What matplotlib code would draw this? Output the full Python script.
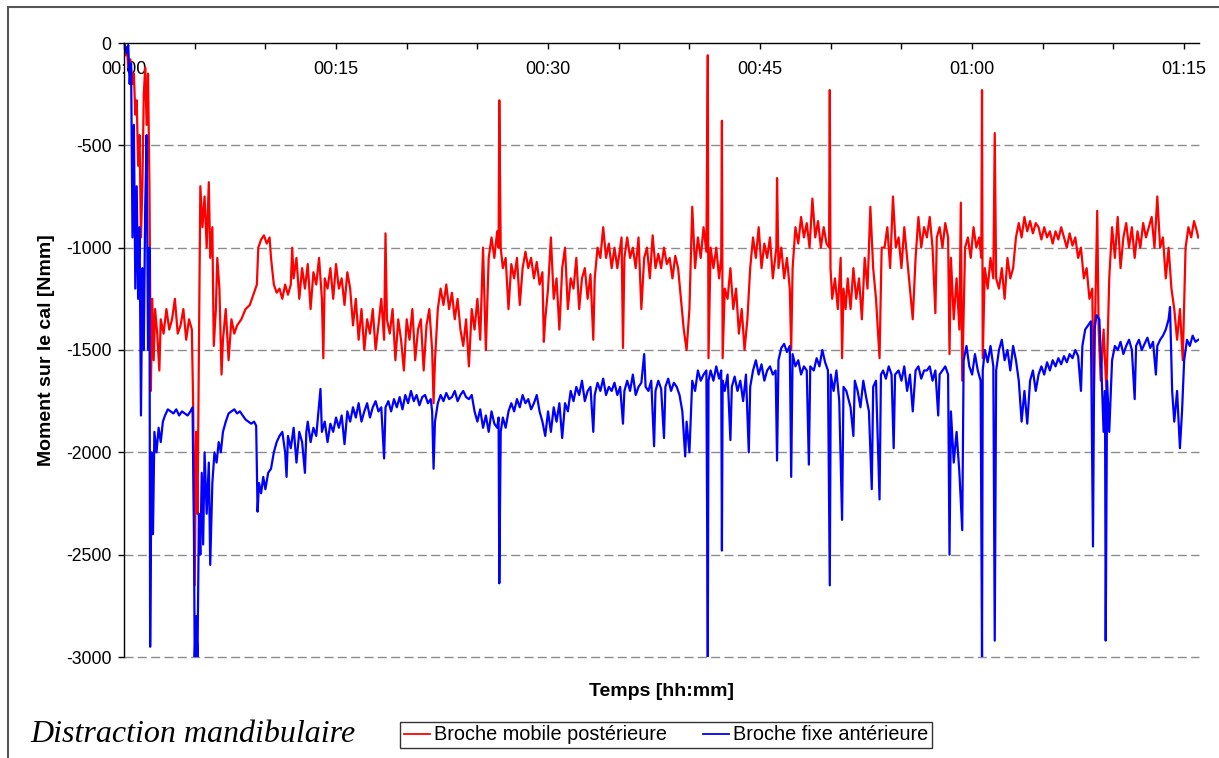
import matplotlib
matplotlib.use("Agg")
import matplotlib.pyplot as plt
import matplotlib.ticker as mticker
from matplotlib.patches import Rectangle

plt.rcParams['font.family'] = ['Liberation Sans', 'DejaVu Sans']
plt.rcParams['axes.unicode_minus'] = False

# temps en minutes, moment en Nmm
red_t = [0, 0.1, 0.2, 0.3, 0.45, 0.6, 0.7, 0.8, 0.9, 1.0, 1.1, 1.2, 1.3, 1.4, 1.5, 1.6, 1.7, 1.8, 1.9,
         2.0, 2.1, 2.2, 2.35, 2.5, 2.6, 2.8, 3.0, 3.2, 3.4, 3.6, 3.8, 4.0, 4.2, 4.4, 4.6, 4.8, 4.9,
         5.0, 5.1, 5.2, 5.3, 5.4, 5.55, 5.7, 5.85, 6.0, 6.1, 6.25, 6.35, 6.5, 6.6, 6.75, 6.9, 7.0, 7.2,
         7.4, 7.6, 7.8, 8.0, 8.3, 8.6, 8.9, 9.2, 9.4, 9.5, 9.7, 9.9, 10.1, 10.3, 10.4, 10.6, 10.8,
         11.0, 11.2, 11.4, 11.6, 11.8, 11.9, 12.0, 12.2, 12.4, 12.6, 12.8, 13.0, 13.2, 13.4, 13.6,
         13.8, 14.0, 14.1, 14.2, 14.4, 14.6, 14.8, 15.0, 15.2, 15.4, 15.6, 15.8, 16.0, 16.2, 16.4,
         16.6, 16.8, 17.0, 17.2, 17.4, 17.6, 17.8, 18.0, 18.2, 18.4, 18.5, 18.6, 18.8, 19.0, 19.2,
         19.4, 19.6, 19.8, 20.0, 20.2, 20.4, 20.6, 20.8, 21.0, 21.2, 21.4, 21.6, 21.8, 21.9, 22.0,
         22.2, 22.4, 22.6, 22.8, 23.0, 23.2, 23.4, 23.6, 23.8, 24.0, 24.2, 24.4, 24.6, 24.8, 25.0,
         25.2, 25.4, 25.6, 25.8, 26.0, 26.2, 26.4, 26.5, 26.55, 26.65, 26.8, 27.0, 27.2, 27.4, 27.6,
         27.8, 28.0, 28.2, 28.4, 28.6, 28.8, 29.0, 29.2, 29.4, 29.6, 29.7, 29.8, 30.0, 30.2, 30.4,
         30.6, 30.8, 31.0, 31.2, 31.4, 31.6, 31.8, 32.0, 32.2, 32.4, 32.6, 32.8, 33.0, 33.2, 33.3,
         33.5, 33.7, 33.9, 34.1, 34.3, 34.5, 34.7, 34.9, 35.2, 35.3, 35.4, 35.6, 35.8, 36.0, 36.2,
         36.4, 36.6, 36.8, 37.0, 37.2, 37.4, 37.6, 37.8, 38.0, 38.2, 38.4, 38.6, 38.8, 39.0, 39.2,
         39.4, 39.6, 39.8, 40.0, 40.2, 40.4, 40.6, 40.8, 41.0, 41.2, 41.3, 41.35, 41.5, 41.7, 41.9,
         42.1, 42.25, 42.3, 42.35, 42.5, 42.7, 42.9, 43.1, 43.3, 43.5, 43.7, 43.9, 44.1, 44.3, 44.5,
         44.7, 44.9, 45.1, 45.3, 45.5, 45.7, 45.9, 46.15, 46.2, 46.3, 46.5, 46.7, 46.9, 47.1, 47.2,
         47.3, 47.5, 47.7, 47.9, 48.1, 48.3, 48.5, 48.7, 48.9, 49.1, 49.3, 49.5, 49.7, 49.88, 49.93,
         49.98, 50.1, 50.3, 50.5, 50.7, 50.8, 50.9, 51.05, 51.2, 51.4, 51.6, 51.8, 52.0, 52.2, 52.4,
         52.6, 52.8, 53.0, 53.2, 53.45, 53.6, 53.8, 54.0, 54.2, 54.4, 54.6, 54.8, 55.0, 55.2, 55.4,
         55.6, 55.8, 56.0, 56.2, 56.4, 56.6, 56.8, 57.0, 57.2, 57.4, 57.5, 57.7, 57.9, 58.1, 58.3,
         58.4, 58.5, 58.7, 58.9, 59.1, 59.2, 59.3, 59.5, 59.7, 59.9, 60.1, 60.3, 60.5, 60.65, 60.7,
         60.75, 60.9, 61.1, 61.3, 61.5, 61.6, 61.7, 61.9, 62.1, 62.3, 62.5, 62.7, 62.9, 63.1, 63.3,
         63.5, 63.7, 63.9, 64.1, 64.3, 64.5, 64.7, 64.9, 65.1, 65.3, 65.5, 65.7, 65.9, 66.1, 66.3,
         66.5, 66.7, 66.9, 67.1, 67.3, 67.5, 67.7, 67.9, 68.1, 68.3, 68.5, 68.6, 68.7, 68.85, 68.95,
         69.1, 69.3, 69.5, 69.7, 69.9, 70.1, 70.3, 70.5, 70.7, 70.9, 71.1, 71.3, 71.5, 71.7, 71.9,
         72.1, 72.3, 72.5, 72.7, 72.9, 73.1, 73.3, 73.5, 73.7, 73.9, 74.1, 74.3, 74.5, 74.7, 74.9,
         75.1, 75.3, 75.5, 75.7, 75.9, 76.0]
red_v = [-30, -60, -20, -120, -80, -200, -150, -350, -280, -600, -450, -950, -700, -250, -120, -400, -150, -700, -1700,
         -1250, -1550, -1300, -1420, -1600, -1350, -1420, -1300, -1400, -1350, -1250, -1420, -1380, -1300, -1450, -1350, -1400, -1800,
         -2650, -1900, -2300, -1500, -700, -900, -750, -1000, -680, -1050, -900, -1480, -1300, -1050, -1200, -1620, -1450, -1300,
         -1550, -1350, -1420, -1380, -1350, -1300, -1280, -1220, -1180, -1000, -960, -940, -980, -950, -1050, -1180, -1220,
         -1200, -1250, -1180, -1230, -1180, -1000, -1150, -1050, -1250, -1100, -1200, -1080, -1300, -1120, -1180,
         -1050, -1250, -1540, -1150, -1200, -1100, -1250, -1080, -1200, -1150, -1280, -1120, -1200, -1380, -1250,
         -1450, -1300, -1500, -1350, -1420, -1300, -1500, -1380, -1250, -1450, -930, -1350, -1420, -1300, -1550,
         -1350, -1450, -1600, -1350, -1450, -1300, -1550, -1400, -1350, -1600, -1380, -1300, -1500, -1760, -1550,
         -1300, -1200, -1280, -1180, -1300, -1220, -1350, -1250, -1400, -1480, -1350, -1580, -1300, -1400, -1250,
         -1450, -1000, -1500, -1050, -950, -1050, -920, -1000, -280, -1000, -1100, -1050, -1300, -1080, -1150,
         -1050, -1280, -1100, -1020, -1100, -1050, -1150, -1070, -1180, -1120, -1460, -1350, -1200, -950, -1250,
         -1150, -1400, -1100, -1000, -1300, -1150, -1200, -1050, -1300, -1150, -1100, -1250, -1130, -1450, -1150,
         -1000, -1050, -900, -1050, -980, -1100, -1000, -1100, -950, -1490, -1050, -950, -1050, -1000, -1100,
         -950, -1300, -1050, -1000, -1150, -940, -1100, -1030, -1100, -1000, -1080, -1050, -1150, -1040, -1100,
         -1250, -1400, -1500, -1300, -800, -1100, -950, -1050, -900, -1020, -60, -1540, -1000, -1100, -1000,
         -1150, -1050, -380, -1540, -1200, -1250, -1100, -1300, -1200, -1420, -1300, -1500, -1350, -1100, -950,
         -1050, -900, -1100, -980, -1050, -950, -1150, -1000, -660, -1100, -1000, -1150, -1050, -1200, -1500,
         -1100, -900, -980, -850, -950, -880, -1000, -760, -950, -870, -1000, -900, -980, -1000, -230,
         -1100, -1250, -1150, -1300, -1050, -1540, -1200, -1300, -1150, -1300, -1100, -1250, -1150, -1350, -1050,
         -1200, -800, -1100, -1250, -1540, -1000, -1000, -900, -1100, -750, -1000, -950, -1100, -900, -1050,
         -1200, -1350, -1050, -850, -1000, -900, -950, -850, -1000, -1320, -950, -900, -1000, -880, -950,
         -1520, -1050, -1350, -1150, -1400, -780, -1650, -1000, -950, -1050, -900, -1000, -950, -1050, -230,
         -1540, -1100, -1200, -1050, -1150, -440, -1150, -1200, -1100, -1250, -1050, -1150, -1100, -950, -880,
         -950, -850, -920, -870, -930, -880, -900, -960, -900, -950, -920, -980, -920, -960, -900,
         -950, -1000, -930, -990, -950, -1050, -1000, -1150, -1100, -1250, -1200, -1750, -1350, -820, -1400,
         -1650, -1400, -1700, -1150, -900, -1050, -850, -1100, -950, -880, -1000, -900, -1050, -920, -1000,
         -880, -950, -900, -850, -1000, -750, -1000, -950, -1150, -1000, -1200, -1300, -1450, -1300, -1550,
         -1000, -900, -950, -870, -920, -950]

blue_t = [0, 0.1, 0.2, 0.3, 0.4, 0.5, 0.6, 0.7, 0.8, 0.9, 1.0, 1.1, 1.2, 1.3, 1.4, 1.5, 1.6, 1.7, 1.8,
          1.85, 1.95, 2.05, 2.15, 2.3, 2.45, 2.6, 2.75, 2.9, 3.1, 3.3, 3.5, 3.7, 3.9, 4.1, 4.3, 4.5,
          4.7, 4.85, 4.95, 5.0, 5.1, 5.2, 5.3, 5.4, 5.5, 5.6, 5.7, 5.85, 6.0, 6.1, 6.25, 6.4, 6.55,
          6.7, 6.85, 7.0, 7.2, 7.4, 7.6, 7.8, 8.0, 8.2, 8.4, 8.6, 8.8, 9.0, 9.2, 9.35, 9.45, 9.55,
          9.7, 9.85, 10.0, 10.2, 10.4, 10.6, 10.8, 11.0, 11.2, 11.4, 11.5, 11.6, 11.8, 12.0, 12.2,
          12.4, 12.6, 12.8, 12.9, 13.0, 13.2, 13.4, 13.6, 13.9, 14.0, 14.2, 14.4, 14.6, 14.8, 15.0,
          15.2, 15.4, 15.6, 15.8, 16.0, 16.2, 16.4, 16.6, 16.8, 17.0, 17.2, 17.4, 17.6, 17.8, 18.0,
          18.2, 18.4, 18.5, 18.7, 18.9, 19.1, 19.3, 19.5, 19.7, 19.9, 20.1, 20.3, 20.5, 20.7, 20.9,
          21.1, 21.3, 21.5, 21.7, 21.8, 21.9, 22.0, 22.2, 22.4, 22.6, 22.8, 23.0, 23.2, 23.4, 23.6,
          23.8, 24.0, 24.2, 24.4, 24.6, 24.8, 25.0, 25.2, 25.4, 25.6, 25.8, 26.0, 26.2, 26.4, 26.5,
          26.55, 26.65, 26.8, 27.0, 27.2, 27.4, 27.6, 27.8, 28.0, 28.2, 28.4, 28.6, 28.8, 29.0, 29.2,
          29.4, 29.6, 29.8, 30.0, 30.2, 30.4, 30.6, 30.8, 31.0, 31.2, 31.4, 31.6, 31.8, 32.0, 32.2,
          32.4, 32.6, 32.8, 33.0, 33.2, 33.3, 33.5, 33.7, 33.9, 34.1, 34.3, 34.5, 34.7, 34.9, 35.1,
          35.3, 35.4, 35.6, 35.8, 36.0, 36.2, 36.4, 36.6, 36.8, 36.9, 37.1, 37.3, 37.5, 37.6, 37.8,
          38.0, 38.2, 38.3, 38.5, 38.7, 38.9, 39.1, 39.3, 39.5, 39.7, 39.8, 40.0, 40.2, 40.4, 40.6,
          40.8, 41.0, 41.2, 41.3, 41.35, 41.5, 41.7, 41.9, 42.1, 42.25, 42.3, 42.35, 42.5, 42.7, 42.9,
          43.0, 43.2, 43.4, 43.6, 43.8, 44.0, 44.2, 44.3, 44.5, 44.7, 44.9, 45.1, 45.3, 45.5, 45.7,
          45.9, 46.1, 46.2, 46.3, 46.5, 46.7, 46.9, 47.1, 47.2, 47.3, 47.5, 47.7, 47.9, 48.1, 48.3,
          48.45, 48.55, 48.8, 49.0, 49.2, 49.4, 49.6, 49.8, 49.93, 50.0, 50.2, 50.4, 50.6, 50.8, 50.9,
          51.1, 51.4, 51.6, 51.7, 51.9, 52.1, 52.3, 52.5, 52.7, 52.9, 53.0, 53.2, 53.45, 53.55, 53.7,
          53.9, 54.1, 54.3, 54.45, 54.55, 54.8, 55.0, 55.2, 55.4, 55.6, 55.8, 56.0, 56.2, 56.4, 56.6,
          56.8, 57.0, 57.2, 57.4, 57.6, 57.7, 57.9, 58.1, 58.3, 58.4, 58.5, 58.7, 58.9, 59.1, 59.3,
          59.4, 59.6, 59.8, 60.0, 60.2, 60.4, 60.6, 60.7, 60.75, 60.9, 61.1, 61.3, 61.5, 61.6, 61.7,
          61.9, 62.1, 62.3, 62.5, 62.7, 62.9, 63.1, 63.3, 63.5, 63.7, 63.9, 64.1, 64.3, 64.5, 64.7,
          64.9, 65.1, 65.3, 65.5, 65.7, 65.9, 66.1, 66.3, 66.5, 66.7, 66.9, 67.1, 67.3, 67.5, 67.7,
          67.8, 68.0, 68.2, 68.4, 68.55, 68.65, 68.8, 69.0, 69.15, 69.3, 69.4, 69.45, 69.55, 69.7, 69.9,
          70.1, 70.3, 70.5, 70.7, 70.9, 71.1, 71.3, 71.5, 71.6, 71.8, 72.0, 72.2, 72.4, 72.6, 72.8,
          73.0, 73.1, 73.3, 73.5, 73.7, 73.9, 74.0, 74.15, 74.3, 74.5, 74.7, 74.85, 75.0, 75.2, 75.4,
          75.6, 75.8, 76.0]
blue_v = [0, -20, -50, -10, -200, -100, -950, -400, -1200, -700, -1250, -900, -1820, -1100, -1500, -800, -450, -1500, -1000,
          -2950, -2000, -2400, -1900, -2000, -1880, -1950, -1850, -1820, -1790, -1800, -1810, -1790, -1820, -1800, -1810, -1820,
          -1800, -1780, -2400, -3000, -2800, -3000, -2300, -2500, -2100, -2450, -2000, -2300, -2050, -2550, -2150, -2000, -2050,
          -1950, -2000, -1900, -1850, -1810, -1800, -1790, -1810, -1800, -1820, -1840, -1850, -1860, -1850, -1870, -2290, -2150,
          -2200, -2120, -2180, -2100, -2080, -2000, -1950, -1920, -1900, -2000, -2120, -1920, -1980, -1880, -2050,
          -1900, -1950, -2100, -1900, -1850, -1950, -1880, -1920, -1690, -1900, -1850, -1950, -1860, -1900, -1830,
          -1880, -1820, -1960, -1800, -1850, -1780, -1830, -1760, -1850, -1800, -1760, -1830, -1780, -1750, -1800,
          -1780, -2030, -1780, -1750, -1800, -1740, -1780, -1730, -1790, -1720, -1760, -1700, -1750, -1720, -1770,
          -1730, -1720, -1760, -1740, -1800, -2080, -1850, -1760, -1720, -1750, -1710, -1740, -1730, -1700, -1750,
          -1720, -1700, -1730, -1740, -1720, -1800, -1850, -1790, -1880, -1820, -1900, -1800, -1860, -1880, -1830,
          -2640, -1900, -1830, -1880, -1800, -1760, -1800, -1740, -1780, -1720, -1760, -1740, -1790, -1760, -1720,
          -1800, -1850, -1920, -1800, -1900, -1780, -1850, -1760, -1930, -1760, -1800, -1700, -1750, -1680, -1720,
          -1650, -1750, -1700, -1680, -1900, -1720, -1660, -1700, -1640, -1720, -1680, -1700, -1660, -1720, -1680,
          -1860, -1700, -1650, -1700, -1620, -1720, -1680, -1660, -1520, -1680, -1700, -1650, -1970, -1700, -1650,
          -1690, -1930, -1680, -1640, -1700, -1660, -1680, -1720, -1800, -2020, -1850, -2000, -1650, -1700, -1600,
          -1650, -1620, -1600, -3000, -1650, -1600, -1650, -1580, -1640, -1600, -2480, -1650, -1700, -1620, -1940,
          -1680, -1630, -1700, -1650, -1750, -1620, -2000, -1680, -1600, -1550, -1620, -1570, -1650, -1600, -1580,
          -1620, -1600, -2040, -1550, -1490, -1470, -1510, -1480, -2120, -1520, -1580, -1550, -1620, -1580, -1600,
          -2060, -1580, -1600, -1540, -1580, -1500, -1560, -1600, -2650, -1620, -1700, -1600, -1750, -2330, -1680,
          -1700, -1780, -1920, -1650, -1700, -1780, -1650, -1730, -1800, -2180, -1680, -1650, -2230, -1620, -1600,
          -1640, -1580, -1620, -1980, -1620, -1600, -1650, -1580, -1700, -1620, -1800, -1600, -1580, -1640, -1600,
          -1600, -1580, -1650, -1600, -1820, -1620, -1600, -1580, -1620, -2500, -1800, -2050, -1900, -2100, -2380,
          -1550, -1480, -1580, -1620, -1520, -1600, -1650, -3000, -1600, -1500, -1560, -1480, -1580, -2920, -1600,
          -1500, -1450, -1550, -1500, -1600, -1480, -1550, -1650, -1850, -1700, -1860, -1650, -1600, -1700, -1620,
          -1580, -1620, -1560, -1600, -1550, -1580, -1540, -1570, -1530, -1560, -1520, -1540, -1500, -1530, -1700,
          -1480, -1400, -1380, -1360, -2460, -1400, -1330, -1350, -1600, -1900, -1700, -2920, -1650, -1900, -1550,
          -1480, -1500, -1460, -1520, -1480, -1450, -1500, -1740, -1480, -1450, -1500, -1470, -1440, -1490, -1460,
          -1620, -1480, -1450, -1430, -1400, -1350, -1290, -1700, -1850, -1700, -1980, -1800, -1550, -1450, -1480,
          -1430, -1460, -1450]

x_ticks = [0, 15, 30, 45, 60, 75]
y_ticks = [0, -500, -1000, -1500, -2000, -2500, -3000]
labels = ['Broche mobile postérieure', 'Broche fixe antérieure']

fig = plt.figure(figsize=(12.19, 7.58), dpi=100)
ax = fig.add_axes([124 / 1219, 1 - 657 / 758, 1075 / 1219, 614 / 758])

ax.plot(red_t, red_v, color='#ff0000', lw=1.6, label=labels[0])
ax.plot(blue_t, blue_v, color='#0000ff', lw=1.6, label=labels[1])

ax.set_xlim(0, 76.05)
ax.set_ylim(-3000, 0)

# axe des temps en haut, graduations vers l'intérieur, étiquettes sous l'axe
ax.xaxis.set_major_locator(mticker.FixedLocator(x_ticks))
ax.xaxis.set_minor_locator(mticker.MultipleLocator(5))
ax.xaxis.set_major_formatter(mticker.FuncFormatter(lambda m, p: f"{int(m // 60):02d}:{int(m % 60):02d}"))
ax.tick_params(axis='x', which='both', top=True, bottom=False, labeltop=True, labelbottom=False,
               direction='in', length=4, width=1, color='black')
ax.tick_params(axis='x', which='major', labelsize=13, pad=-25)
ax.set_yticks(y_ticks)
ax.tick_params(axis='y', direction='out', length=4, width=1, labelsize=12.7, pad=5)

for v in y_ticks[1:]:
    ax.axhline(v, color='#8c8c8c', lw=1.0, ls=(0, (6.5, 3.1)), zorder=0.5, clip_on=False)

for side in ['bottom', 'right']:
    ax.spines[side].set_visible(False)
for side in ['top', 'left']:
    ax.spines[side].set_color('black')
    ax.spines[side].set_linewidth(1.0)

ax.set_ylabel('Moment sur le cal [Nmm]', fontsize=14, fontweight='bold', labelpad=8)
ax.xaxis.set_label_position('bottom')
ax.set_xlabel('Temps [hh:mm]', fontsize=14, fontweight='bold', labelpad=19)

fig.text(30 / 1219, 1 - 742 / 758, 'Distraction mandibulaire', fontsize=23, style='italic',
         family='Liberation Serif', va='baseline', ha='left')

leg = fig.legend(loc='center', bbox_to_anchor=(666 / 1219, 1 - 735 / 758), ncol=2, fontsize=14.3,
                 frameon=True, fancybox=False, handlelength=1.3, handletextpad=0.2,
                 columnspacing=1.8, borderpad=0.2)
leg.get_frame().set_edgecolor('black')
leg.get_frame().set_linewidth(1.0)
for line in leg.get_lines():
    line.set_linewidth(1.3)

# cadre du graphique
fig.patches.append(Rectangle((8 / 1219, -0.1), 1.1, 1.1 - 7 / 758, transform=fig.transFigure,
                             fill=False, edgecolor='#555555', lw=1.5))

fig.savefig('out.png', dpi=100)
